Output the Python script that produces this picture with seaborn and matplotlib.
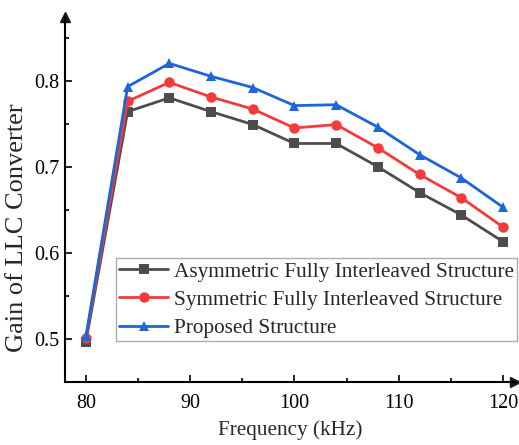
import numpy as np
import pandas as pd
import seaborn as sns
import matplotlib.pyplot as plt
from matplotlib.ticker import MultipleLocator

freq = [80, 84, 88, 92, 96, 100, 104, 108, 112, 116, 120]
asym = [0.497, 0.764, 0.780, 0.764, 0.749, 0.727, 0.727, 0.700, 0.670, 0.644, 0.613]
sym = [0.501, 0.776, 0.798, 0.781, 0.767, 0.745, 0.749, 0.722, 0.691, 0.664, 0.630]
prop = [0.503, 0.793, 0.820, 0.805, 0.792, 0.771, 0.772, 0.746, 0.714, 0.687, 0.653]

names = ["Asymmetric Fully Interleaved Structure",
         "Symmetric Fully Interleaved Structure",
         "Proposed Structure"]
colors = ["#4d4d4d", "#f23c3c", "#1d65d8"]
markers = ["s", "o", "^"]

df = pd.concat([
    pd.DataFrame({"Frequency": freq, "Gain": vals, "Structure": n})
    for n, vals in zip(names, [asym, sym, prop])
])

sns.set_theme(style="ticks")
plt.rcParams["font.family"] = ["Liberation Serif", "DejaVu Serif"]

fig = plt.figure(figsize=(5.19, 4.45), dpi=100)
ax = fig.add_axes([0.1252, 0.1416, 0.867, 0.8204])

sns.lineplot(data=df, x="Frequency", y="Gain", hue="Structure", style="Structure",
             palette=colors, markers=markers, dashes=False, markersize=7.5,
             markeredgewidth=0, linewidth=2, ax=ax)

ax.set_xlim(77.99, 121.15)
ax.set_ylim(0.45, 0.874)
ax.xaxis.set_major_locator(MultipleLocator(10))
ax.xaxis.set_minor_locator(MultipleLocator(5))
ax.yaxis.set_major_locator(MultipleLocator(0.1))
ax.yaxis.set_minor_locator(MultipleLocator(0.05))
ax.set_yticks([0.5, 0.6, 0.7, 0.8])
ax.tick_params(which="both", direction="in", width=1.2, colors="black", labelsize=14.5)
ax.tick_params(which="major", length=5)
ax.tick_params(which="minor", length=3)
ax.tick_params(axis="x", pad=9)
ax.tick_params(axis="y", pad=4)

for s in ["top", "right"]:
    ax.spines[s].set_visible(False)
for s in ["left", "bottom"]:
    ax.spines[s].set_linewidth(1.5)
    ax.spines[s].set_color("black")

# arrow heads at axis ends
ax.plot(1, 0, ">k", transform=ax.transAxes, clip_on=False, markersize=7)
ax.plot(0, 1, "^k", transform=ax.transAxes, clip_on=False, markersize=7)

ax.set_xlabel("Frequency (kHz)", fontsize=15.3, labelpad=5)
ax.set_ylabel("Gain of LLC Converter", fontsize=19)
ax.yaxis.set_label_coords(-0.082, 0.423)

leg = ax.legend(loc="lower right", bbox_to_anchor=(1.004, 0.111), fontsize=15.3,
                frameon=True, fancybox=False, edgecolor="#999999",
                handlelength=2.3, handletextpad=0.25, borderpad=0.15,
                labelspacing=0.4, borderaxespad=0)
leg.get_frame().set_linewidth(1.0)

fig.savefig("out.png", dpi=100)
